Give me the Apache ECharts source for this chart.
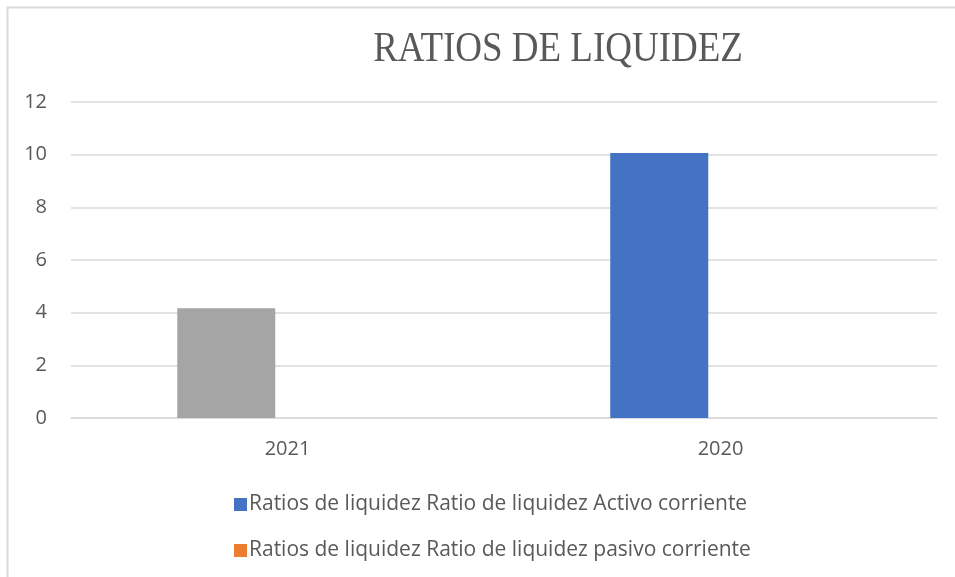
<!DOCTYPE html>
<html>
<head>
<meta charset="utf-8">
<script src="https://cdn.jsdelivr.net/npm/echarts@6/dist/echarts.min.js"></script>
<style>html,body{margin:0;padding:0;background:#fff}#c{width:955px;height:577px}</style>
</head>
<body>
<div id="c"></div>
<script>
const titleText = 'RATIOS DE LIQUIDEZ';
const categories = ['2021', '2020'];
const seriesNames = ['Ratios de liquidez Ratio de liquidez Activo corriente', 'Ratios de liquidez Ratio de liquidez pasivo corriente'];
const activoValues = [4.17, 10.06];
const pasivoValues = [0, 0];
const yTicks = {min: 0, max: 12, interval: 2};

const activoColors = ['#A5A5A5', '#4472C4'];

const chart = echarts.init(document.getElementById('c'), null, {renderer: 'canvas'});
chart.setOption({
  animation: false,
  backgroundColor: '#ffffff',
  graphic: [
    {type: 'rect', left: 5, top: 5, shape: {width: 1000, height: 700}, style: {fill: 'none', stroke: '#d9d9d9', lineWidth: 2}, silent: true},
    {type: 'text', x: 558, y: 50, scaleX: 0.86, style: {text: titleText, font: '43px "Liberation Serif"', fill: '#595959', textAlign: 'center', textVerticalAlign: 'middle'}}
  ],
  grid: {left: 71, right: 18, top: 102, bottom: 159},
  legend: {
    orient: 'vertical', left: 229, top: 489, itemGap: 25, itemWidth: 13, itemHeight: 13,
    icon: 'rect',
    textStyle: {fontFamily: 'Open Sans', fontSize: 21, color: '#595959', padding: [0,0,0,-3]},
    data: seriesNames
  },
  xAxis: {
    type: 'category', data: categories,
    axisLine: {lineStyle: {color: '#d9d9d9', width: 1.5}},
    axisTick: {show: false},
    axisLabel: {fontFamily: 'Open Sans', fontSize: 20, color: '#595959', margin: 21}
  },
  yAxis: {
    type: 'value', min: yTicks.min, max: yTicks.max, interval: yTicks.interval,
    axisLine: {show: false}, axisTick: {show: false},
    axisLabel: {fontFamily: 'Open Sans', fontSize: 20, color: '#595959', margin: 24},
    splitLine: {lineStyle: {color: '#d9d9d9', width: 1.5}}
  },
  series: [
    {name: seriesNames[0], type: 'bar', barWidth: 98, barGap: '25%', itemStyle: {color: '#4472C4'},
     data: activoValues.map((v, i) => ({value: v, itemStyle: {color: activoColors[i]}}))},
    {name: seriesNames[1], type: 'bar', barWidth: 98, barGap: '25%', itemStyle: {color: '#ED7D31'}, data: pasivoValues}
  ]
});
</script>
</body>
</html>
